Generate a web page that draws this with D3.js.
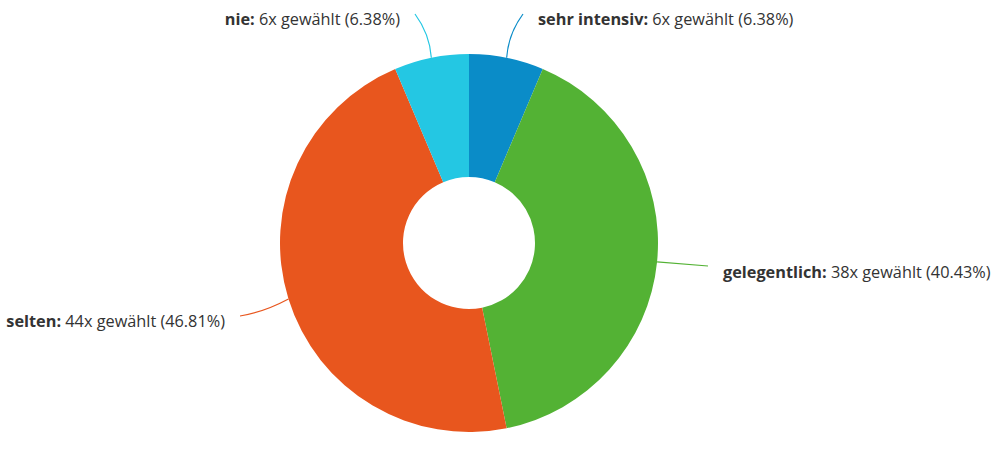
<!DOCTYPE html>
<html><head><meta charset="utf-8">
<script src="https://cdn.jsdelivr.net/npm/d3@7"></script>
<style>body{margin:0;background:#fff;}svg{display:block;font-family:"Open Sans",sans-serif;}</style>
</head><body><svg id="c" width="1000" height="460"></svg>
<script>
const categories = ["sehr intensiv", "gelegentlich", "selten", "nie"];
const counts = [6, 38, 44, 6];
const percents = ["6.38%", "40.43%", "46.81%", "6.38%"];
const colors = ["#0a8cc8", "#53b234", "#e8561e", "#24c7e3"];

const svg = d3.select("#c");
const cx = 469, cy = 243, R = 189, r0 = 66;
const g = svg.append("g").attr("transform", `translate(${cx},${cy})`);
const pie = d3.pie().sort(null).value(d => d)(counts);
const arc = d3.arc().innerRadius(r0).outerRadius(R);
g.selectAll("path.s").data(pie).join("path").attr("class","s")
  .attr("d", arc).attr("fill", (d,i) => colors[i]);

const layout = [
  {lx: 538, ly: 25, anchor: "start", cx1: 523, cy1: 14},
  {lx: 723, ly: 278, anchor: "start", cx1: 708, cy1: 266},
  {lx: 225, ly: 327, anchor: "end", cx1: 240, cy1: 316},
  {lx: 400, ly: 25, anchor: "end", cx1: 415, cy1: 14}
];
pie.forEach((d,i) => {
  const a = (d.startAngle + d.endAngle) / 2;
  const ex = cx + R * Math.sin(a), ey = cy - R * Math.cos(a);
  const L = layout[i];
  const path = d3.path();
  path.moveTo(L.cx1, L.cy1);
  path.quadraticCurveTo(i===1 ? (L.cx1+ex)/2 : (i===2 ? (L.cx1+ex)/2 : ex + (L.cx1-ex)*0.1), i===1 ? (L.cy1+ey)/2 : (i===2 ? L.cy1 - 4 : L.cy1 + 20), ex, ey);
  svg.append("path").attr("d", path.toString()).attr("fill","none")
    .attr("stroke", colors[i]).attr("stroke-width", 1.2);
  const t = svg.append("text").attr("x", L.lx).attr("y", L.ly)
    .attr("text-anchor", L.anchor).attr("font-size", 16.3).attr("fill", "#333");
  t.append("tspan").attr("font-weight", "bold").text(categories[i] + ":");
  t.append("tspan").text(` ${counts[i]}x gewählt (${percents[i]})`);
});
</script></body></html>
